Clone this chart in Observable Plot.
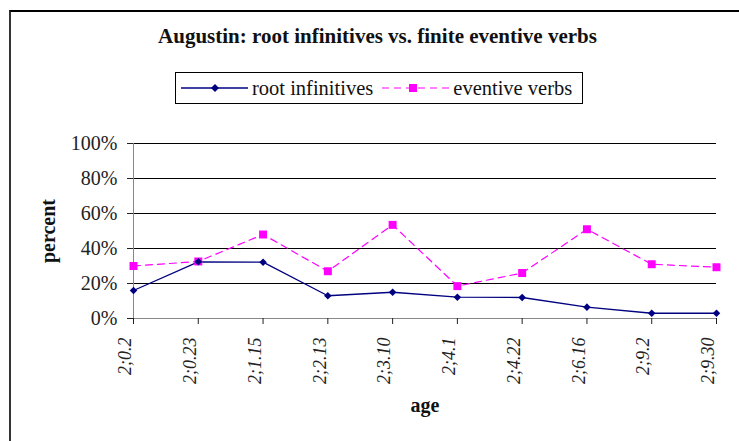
<!DOCTYPE html>
<html>
<head>
<meta charset="utf-8">
<script src="https://cdn.jsdelivr.net/npm/d3@7"></script>
<script src="https://cdn.jsdelivr.net/npm/@observablehq/plot@0.6"></script>
<style>
  html, body { margin: 0; padding: 0; background: #fff; overflow: hidden; }
  #wrap { position: relative; width: 739px; height: 441px; font-family: "Liberation Serif", "Times New Roman", serif; color: #111; }
  #frame { position: absolute; left: 9px; top: 10px; width: 800px; height: 500px; border-left: 2px solid #333; border-top: 2px solid #000; box-sizing: border-box; pointer-events: none; z-index: 2; }
  #title { position: absolute; left: 0; top: 23px; width: 755px; text-align: center; font-weight: bold; font-size: 21px; line-height: 26px; }
  #legend { position: absolute; left: 175px; top: 72px; width: 408px; height: 32px; box-sizing: border-box; border: 1px solid #000; display: flex; align-items: center; font-size: 20.5px; white-space: nowrap; }
  #legend svg { display: block; flex: none; }
  #legend span { display: block; line-height: 30px; }
  #chart { position: absolute; left: 0; top: 110px; }
</style>
</head>
<body>
<div id="wrap">
  <div id="frame"></div>
  <div id="title"></div>
  <div id="legend"></div>
  <div id="chart"></div>
</div>
<script>
const ages = ["2;0.2", "2;0.23", "2;1.15", "2;2.13", "2;3.10", "2;4.1", "2;4.22", "2;6.16", "2;9.2", "2;9.30"];
const rootInfinitives = [16, 32.4, 32.2, 13, 15, 12.2, 12, 6.5, 3, 3];
const eventiveVerbs = [30, 32.6, 48, 27, 53.5, 18.5, 26, 51, 31, 29.3];
const yTicks = [0, 20, 40, 60, 80, 100];
const seriesNames = ["root infinitives", "eventive verbs"];
const titleText = "Augustin: root infinitives vs. finite eventive verbs";
const xLabel = "age";
const yLabel = "percent";

const rootColor = "#000080";
const eventColor = "#FF00FF";

document.getElementById("title").textContent = titleText;

const rootData = ages.map((a, i) => ({age: a, value: rootInfinitives[i]}));
const eventData = ages.map((a, i) => ({age: a, value: eventiveVerbs[i]}));

// Legend
const legend = document.getElementById("legend");
legend.innerHTML = `
  <svg width="67" height="12" style="margin-left:5px;margin-right:4px">
    <line x1="0" x2="67" y1="6" y2="6" stroke="${rootColor}" stroke-width="1.3"/>
    <path d="M34,2 L38,6 L34,10 L30,6 Z" fill="${rootColor}"/>
  </svg>
  <span></span>
  <svg width="67" height="12" style="margin-left:9px;margin-right:4px">
    <line x1="0" x2="67" y1="6" y2="6" stroke="${eventColor}" stroke-width="1.2" stroke-dasharray="7,5"/>
    <rect x="27" y="2" width="8" height="8" fill="${eventColor}"/>
  </svg>
  <span></span>`;
const spans = legend.querySelectorAll("span");
spans[0].textContent = seriesNames[0];
spans[1].textContent = seriesNames[1];

const chart = Plot.plot({
  width: 739,
  height: 331,
  marginLeft: 133,
  marginRight: 23,
  marginTop: 33,
  marginBottom: 123,
  style: {background: "none", fontFamily: "'Liberation Serif', 'Times New Roman', serif", fontSize: "18px", color: "#111", overflow: "visible"},
  x: {type: "point", domain: ages, padding: 0, round: false, label: null},
  y: {domain: [0, 100], label: null},
  marks: [
    Plot.ruleY(yTicks.filter(d => d > 0), {stroke: "#000", strokeWidth: 1}),
    Plot.ruleY([0], {stroke: "#888", strokeWidth: 1}),
    Plot.ruleX([ages[0]], {stroke: "#888", strokeWidth: 1}),
    Plot.axisY({ticks: yTicks, tickFormat: d => d + "%", tickSize: 6, tickPadding: 10, fontSize: 20, label: null, stroke: "#222", color: "#222"}),
    Plot.axisX({tickSize: 6, tickFormat: () => "", label: null, stroke: "#222"}),
    Plot.axisX({tickSize: 0, tickPadding: 19, tickRotate: -90, dx: -8, fontSize: 18, fontStyle: "italic", label: null, color: "#222"}),
    Plot.text([yLabel], {frameAnchor: "left", textAnchor: "middle", dx: -85, rotate: -90, fontWeight: "bold", fontSize: 20, fill: "#111"}),
    Plot.text([xLabel], {frameAnchor: "bottom", dy: 93, fontWeight: "bold", fontSize: 20, fill: "#111"}),
    Plot.line(eventData, {x: "age", y: "value", stroke: eventColor, strokeWidth: 1.2, strokeDasharray: "7,5"}),
    Plot.line(rootData, {x: "age", y: "value", stroke: rootColor, strokeWidth: 1.3}),
    Plot.dot(eventData, {x: "age", y: "value", symbol: "square", r: 4.5, fill: eventColor, stroke: "none"}),
    Plot.dot(rootData, {x: "age", y: "value", symbol: "diamond2", r: 3.4, fill: rootColor, stroke: "none"})
  ]
});
document.getElementById("chart").appendChild(chart);
</script>
</body>
</html>
